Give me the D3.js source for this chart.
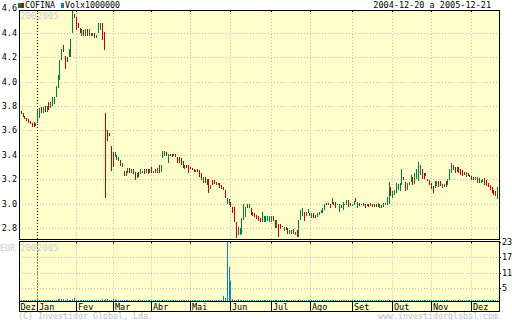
<!DOCTYPE html>
<html>
<head>
<meta charset="utf-8">
<script src="https://cdn.jsdelivr.net/npm/d3@7"></script>
<style>
  body { margin: 0; background: #fff; }
  svg text { font-family: "DejaVu Sans Mono", monospace; }
</style>
</head>
<body>
<svg id="chart" width="512" height="320"></svg>
<script>
// months on the x axis and how many trading days each one holds (2004-12-20 .. 2005-12-21)
var months = ["Dez", "Jan", "Fev", "Mar", "Abr", "Mai", "Jun", "Jul", "Ago", "Set", "Out", "Nov", "Dez"];
var monthDays = [10, 21, 20, 21, 21, 22, 22, 21, 23, 22, 21, 22, 15];

var priceTicks = [2.8, 3.0, 3.2, 3.4, 3.6, 3.8, 4.0, 4.2, 4.4, 4.6];
var volTicks = [5, 11, 17, 23];

// daily open / close (EUR)
var openP = [
  3.79, 3.76, 3.74, 3.72, 3.70, 3.69, 3.675, 3.66, 3.67, 3.64,
  3.66, 3.70, 3.795, 3.745, 3.80, 3.75, 3.835, 3.78, 3.80, 3.82, 3.875, 3.95, 4.01, 4.18, 4.30, 4.21, 4.20, 4.20, 4.20, 4.40, 4.55,
  4.53, 4.48, 4.44, 4.37, 4.42, 4.375, 4.43, 4.37, 4.40, 4.37, 4.40, 4.355, 4.40, 4.42, 4.48, 4.41, 3.745, 3.60, 3.58, 3.475,
  3.42, 3.38, 3.36, 3.35, 3.36, 3.30, 3.27, 3.23, 3.25, 3.29, 3.25, 3.28, 3.255, 3.21, 3.26, 3.24, 3.25, 3.28, 3.25, 3.28, 3.25,
  3.30, 3.25, 3.28, 3.25, 3.32, 3.26, 3.37, 3.39, 3.42, 3.33, 3.41, 3.41, 3.39, 3.41, 3.385, 3.38, 3.37, 3.35, 3.28, 3.32, 3.32,
  3.30, 3.295, 3.28, 3.26, 3.28, 3.275, 3.25, 3.17, 3.215, 3.20, 3.20, 3.12, 3.19, 3.19, 3.18, 3.155, 3.17, 3.155, 3.14, 3.11, 2.995, 2.99,
  3.01, 2.975, 2.975, 2.85, 2.74, 2.745, 2.75, 2.865, 2.89, 3.0, 2.96, 2.96, 2.93, 2.92, 2.91, 2.898, 2.88, 2.85, 2.85, 2.85, 2.855, 2.85,
  2.85, 2.90, 2.865, 2.80, 2.83, 2.83, 2.82, 2.775, 2.81, 2.80, 2.75, 2.75, 2.79, 2.745, 2.78, 2.73, 2.865, 2.90, 2.93, 2.90, 2.92,
  2.925, 2.88, 2.92, 2.905, 2.89, 2.905, 2.92, 2.92, 2.948, 3.003, 2.985, 3.0, 3.0, 3.014, 3.014, 2.985, 2.93, 2.99, 2.948, 2.99, 2.985, 3.03, 2.98,
  2.98, 2.99, 3.05, 2.96, 3.003, 2.985, 2.98, 3.0, 2.98, 3.0, 2.98, 2.995, 2.97, 3.0, 2.97, 2.96, 2.99, 2.97, 2.99, 2.99, 3.0, 3.14,
  3.043, 3.07, 3.084, 3.11, 3.106, 3.15, 3.215, 3.18, 3.11, 3.152, 3.18, 3.22, 3.158, 3.20, 3.188, 3.234, 3.28, 3.248, 3.226, 3.20, 3.193,
  3.166, 3.144, 3.125, 3.144, 3.188, 3.188, 3.125, 3.133, 3.188, 3.152, 3.19, 3.248, 3.316, 3.30, 3.26, 3.297, 3.28, 3.275, 3.26, 3.22, 3.252, 3.234,
  3.226, 3.215, 3.19, 3.166, 3.207, 3.166, 3.18, 3.207, 3.197, 3.17, 3.152, 3.14, 3.11, 3.10, 3.035
];
var closeP = [
  3.76, 3.735, 3.71, 3.69, 3.675, 3.66, 3.65, 3.63, 3.63, 3.66,
  3.775, 3.78, 3.74, 3.79, 3.75, 3.80, 3.77, 3.835, 3.87, 3.875, 3.96, 4.05, 4.18, 4.27, 4.24, 4.10, 4.16, 4.27, 4.35, 4.59, 4.52,
  4.42, 4.44, 4.40, 4.43, 4.37, 4.43, 4.37, 4.43, 4.37, 4.40, 4.355, 4.38, 4.48, 4.48, 4.34, 4.26, 3.05, 3.515, 3.55, 3.27,
  3.30, 3.42, 3.40, 3.38, 3.31, 3.33, 3.23, 3.27, 3.29, 3.25, 3.28, 3.24, 3.19, 3.25, 3.22, 3.28, 3.27, 3.24, 3.28, 3.24, 3.28,
  3.25, 3.27, 3.25, 3.29, 3.25, 3.32, 3.43, 3.43, 3.39, 3.41, 3.39, 3.38, 3.41, 3.38, 3.33, 3.33, 3.32, 3.29, 3.32, 3.29, 3.25,
  3.28, 3.277, 3.26, 3.275, 3.26, 3.22, 3.195, 3.22, 3.17, 3.155, 3.09, 3.155, 3.155, 3.16, 3.155, 3.17, 3.13, 3.12, 3.11, 3.045, 3.05, 3.04,
  2.97, 2.925, 2.85, 2.72, 2.81, 2.80, 2.88, 3.0, 2.97, 2.96, 3.0, 2.91, 2.90, 2.89, 2.875, 2.86, 2.85, 2.93, 2.90, 2.90, 2.90, 2.90,
  2.90, 2.86, 2.80, 2.865, 2.73, 2.795, 2.81, 2.81, 2.78, 2.75, 2.78, 2.78, 2.75, 2.77, 2.73, 2.865, 2.95, 2.96, 2.86, 2.93, 2.955,
  2.90, 2.92, 2.88, 2.88, 2.925, 2.935, 2.948, 2.96, 3.0, 2.985, 3.003, 2.96, 3.05, 2.985, 2.96, 3.0, 3.0, 2.96, 3.014, 3.0, 3.03, 2.97, 3.003,
  3.0, 3.02, 3.01, 3.014, 2.98, 3.0, 3.003, 2.96, 3.0, 2.97, 3.003, 2.97, 3.0, 2.97, 3.003, 2.997, 2.96, 3.007, 3.007, 3.057, 3.18, 3.06,
  3.10, 3.11, 3.166, 3.158, 3.17, 3.28, 3.197, 3.10, 3.166, 3.18, 3.234, 3.152, 3.248, 3.28, 3.343, 3.316, 3.20, 3.20, 3.248, 3.188, 3.15,
  3.12, 3.09, 3.188, 3.188, 3.14, 3.144, 3.158, 3.158, 3.133, 3.20, 3.28, 3.33, 3.275, 3.252, 3.297, 3.248, 3.234, 3.226, 3.234, 3.26, 3.226, 3.215,
  3.197, 3.19, 3.215, 3.215, 3.166, 3.193, 3.20, 3.152, 3.144, 3.14, 3.11, 3.084, 3.07, 3.06, 3.14
];
// daily volume, x1000000
var volume = [
  0.2, 0.3, 0.2, 0.2, 0.1, 0.2, 0.3, 0.2, 0.3, 0.5,
  0.4, 0.5, 0.3, 0.3, 0.4, 0.2, 0.3, 0.3, 0.4, 0.4, 0.5, 0.6, 0.9, 0.7, 0.8, 0.4, 0.6, 0.5, 0.4, 0.6, 1.2,
  0.5, 0.4, 0.3, 0.3, 0.3, 0.2, 0.3, 0.2, 0.3, 0.2, 0.3, 0.4, 0.4, 0.5, 0.6, 0.5, 0.9, 0.6, 0.5, 0.4,
  0.8, 0.7, 0.4, 0.3, 0.3, 0.2, 0.3, 0.2, 0.2, 0.3, 0.2, 0.2, 0.3, 0.2, 0.2, 0.3, 0.2, 0.2, 0.3, 0.2, 0.2,
  0.2, 0.2, 0.2, 0.3, 0.2, 0.2, 0.4, 0.3, 0.2, 0.2, 0.2, 0.2, 0.2, 0.3, 0.2, 0.2, 0.2, 0.2, 0.3, 0.2, 0.2,
  0.2, 0.2, 0.2, 0.3, 0.2, 0.2, 0.3, 0.2, 0.2, 0.4, 0.2, 0.2, 0.2, 0.2, 0.2, 0.2, 0.3, 0.4, 2.1, 1.3, 23, 13.4,
  7.8, 0.6, 0.4, 0.5, 0.6, 0.4, 0.3, 0.3, 0.4, 0.3, 0.2, 0.2, 0.2, 0.2, 0.3, 0.2, 0.2, 0.2, 0.3, 0.2, 0.2, 0.2,
  0.2, 0.2, 0.3, 0.2, 0.3, 0.2, 0.2, 0.2, 0.2, 0.2, 0.2, 0.2, 0.2, 0.2, 0.3, 0.3, 0.2, 0.2, 0.2, 0.2, 0.2,
  0.2, 0.2, 0.2, 0.2, 0.2, 0.2, 0.2, 0.2, 0.3, 0.2, 0.2, 0.2, 0.3, 0.2, 0.2, 0.2, 0.2, 0.2, 0.2, 0.2, 0.2, 0.2, 0.2,
  0.2, 0.2, 0.3, 0.2, 0.2, 0.2, 0.2, 0.2, 0.2, 0.2, 0.2, 0.2, 0.2, 0.2, 0.2, 0.2, 0.2, 0.2, 0.2, 0.3, 0.5, 0.4,
  0.3, 0.3, 0.3, 0.3, 0.3, 0.5, 0.3, 0.3, 0.2, 0.2, 0.3, 0.2, 0.3, 0.3, 0.4, 0.3, 0.3, 0.2, 0.2, 0.2, 0.2,
  0.2, 0.2, 0.2, 0.2, 0.2, 0.2, 0.2, 0.2, 0.2, 0.2, 0.3, 0.4, 0.3, 0.2, 0.2, 0.2, 0.2, 0.2, 0.2, 0.2, 0.2, 0.2,
  0.2, 0.2, 0.2, 0.2, 0.2, 0.2, 0.2, 0.2, 0.2, 0.2, 0.2, 0.3, 0.3, 0.2, 0.3
];

var svg = d3.select("#chart");
var left = 19, right = 499,
    pTop = 10, pBottom = 239.5,
    vTop = 241.5, vBottom = 301.5,
    mBottom = 311;
var bg = "#ffffcc", grid = "#c0c0c0", up = "#008040", down = "#cc0000", volCol = "#0a84c8";

var nDays = d3.sum(monthDays);
var days = d3.range(nDays);
var x = d3.scaleBand().domain(days).range([left, right]).padding(0);

// first trading day of each month
var monthStart = [];
var acc = 0;
monthDays.forEach(function(n) { monthStart.push(acc); acc += n; });

var y = d3.scaleLinear().domain([2.8, 4.6]).range([228, 8.4]);
var yv = d3.scaleLinear().domain([0, 23]).range([301, 242]);

// the old year label is cut where the new year starts
svg.append("defs").append("clipPath").attr("id", "oldYear")
   .append("rect").attr("x", 0).attr("y", 0).attr("width", 36).attr("height", 320);

// panel backgrounds
svg.append("rect").attr("x", left).attr("y", pTop).attr("width", right - left).attr("height", pBottom - pTop).attr("fill", bg);
svg.append("rect").attr("x", left).attr("y", vTop).attr("width", right - left).attr("height", vBottom - vTop).attr("fill", bg);
svg.append("rect").attr("x", left).attr("y", vBottom).attr("width", right - left).attr("height", mBottom - vBottom).attr("fill", bg);

// horizontal gridlines
svg.append("g").selectAll("line")
  .data(priceTicks.filter(d => d < 4.6))
  .enter().append("line")
  .attr("x1", left).attr("x2", right)
  .attr("y1", d => Math.round(y(d)) + 0.5).attr("y2", d => Math.round(y(d)) + 0.5)
  .attr("stroke", grid).attr("stroke-dasharray", "1,2");

svg.append("g").selectAll("line")
  .data(volTicks.filter(d => d < 23))
  .enter().append("line")
  .attr("x1", left).attr("x2", right)
  .attr("y1", d => Math.round(yv(d)) + 0.5).attr("y2", d => Math.round(yv(d)) + 0.5)
  .attr("stroke", grid).attr("stroke-dasharray", "1,2");

// vertical month gridlines (year change drawn black)
var mx = function(i) { return Math.round(x(monthStart[i])) + 0.5; };
[[pTop, pBottom], [vTop, vBottom]].forEach(function(r) {
  svg.append("g").selectAll("line")
    .data(d3.range(1, months.length))
    .enter().append("line")
    .attr("x1", mx).attr("x2", mx)
    .attr("y1", r[0]).attr("y2", r[1])
    .attr("stroke", i => i === 1 ? "#000" : grid)
    .attr("stroke-dasharray", "1,2");
  // little black marks at the top
  svg.append("g").selectAll("line")
    .data(d3.range(1, months.length))
    .enter().append("line")
    .attr("x1", mx).attr("x2", mx)
    .attr("y1", r[0]).attr("y2", r[0] + 2)
    .attr("stroke", "#000");
});

// watermarks
[[18.5, "2004", 20], [18.5, "2005", 37], [251, "2004", 20], [251, "2005", 37]].forEach(function(w) {
  svg.append("text").attr("x", w[2]).attr("y", w[0]).attr("font-size", 9)
     .attr("fill", "#cccccc")
     .attr("clip-path", w[1] === "2004" ? "url(#oldYear)" : null)
     .text(w[1]);
});
svg.append("text").attr("x", 0).attr("y", 251).attr("font-size", 8.5).attr("fill", "#c8c8c8").text("EUR");

// price bars
var bars = svg.append("g").attr("shape-rendering", "crispEdges");
bars.selectAll("rect")
  .data(days)
  .enter().append("rect")
  .attr("x", i => Math.floor(x(i) + x.bandwidth() / 2 - 0.5))
  .attr("width", 1)
  .attr("y", i => Math.round(y(Math.max(openP[i], closeP[i]))))
  .attr("height", i => Math.max(1, Math.round(y(Math.min(openP[i], closeP[i]))) - Math.round(y(Math.max(openP[i], closeP[i])))))
  .attr("fill", i => closeP[i] >= openP[i] ? up : down);

// volume bars
svg.append("g").attr("shape-rendering", "crispEdges")
  .selectAll("rect")
  .data(days)
  .enter().append("rect")
  .attr("x", i => Math.floor(x(i) + x.bandwidth() / 2 - 0.5))
  .attr("width", 1)
  .attr("y", i => Math.min(300, Math.round(yv(volume[i]))))
  .attr("height", i => Math.max(1, 301 - Math.round(yv(volume[i]))))
  .attr("fill", volCol);

// panel frames
var frame = svg.append("g").attr("fill", "none").attr("stroke", "#000").attr("shape-rendering", "crispEdges");
frame.append("rect").attr("x", left).attr("y", pTop).attr("width", right - left).attr("height", pBottom - pTop);
frame.append("rect").attr("x", left).attr("y", vTop).attr("width", right - left).attr("height", vBottom - vTop);
frame.append("rect").attr("x", left).attr("y", vBottom).attr("width", right - left).attr("height", mBottom - vBottom);

// month row
svg.append("g").selectAll("line")
  .data(d3.range(1, months.length))
  .enter().append("line")
  .attr("x1", mx).attr("x2", mx)
  .attr("y1", vBottom).attr("y2", mBottom)
  .attr("stroke", "#000");
svg.append("g").selectAll("text")
  .data(months)
  .enter().append("text")
  .attr("x", (d, i) => (i === 0 ? left : mx(i)) + 1.5)
  .attr("y", 309.5)
  .attr("font-size", 8.5)
  .attr("fill", "#000")
  .text(d => d);

// price axis labels
svg.append("g").selectAll("text")
  .data(priceTicks)
  .enter().append("text")
  .attr("x", 17)
  .attr("y", d => y(d))
  .attr("dy", "0.35em")
  .attr("text-anchor", "end")
  .attr("font-size", 8.5)
  .text(d => d.toFixed(1));

// volume axis labels
var vAxis = svg.append("g");
vAxis.selectAll("line")
  .data(volTicks).enter().append("line")
  .attr("x1", right).attr("x2", right + 2)
  .attr("y1", d => Math.round(yv(d)) + 0.5).attr("y2", d => Math.round(yv(d)) + 0.5)
  .attr("stroke", "#000");
vAxis.selectAll("text")
  .data(volTicks).enter().append("text")
  .attr("x", 502)
  .attr("y", d => yv(d))
  .attr("dy", "0.35em")
  .attr("font-size", 8.5)
  .text(d => d);

// legend and title
svg.append("rect").attr("x", 18).attr("y", 3).attr("width", 3).attr("height", 5).attr("fill", up);
svg.append("rect").attr("x", 21).attr("y", 3).attr("width", 3).attr("height", 5).attr("fill", down);
svg.append("text").attr("x", 25).attr("y", 8).attr("font-size", 8.3).text("COFINA");
svg.append("rect").attr("x", 61).attr("y", 3).attr("width", 3).attr("height", 5).attr("fill", volCol);
svg.append("text").attr("x", 65).attr("y", 8).attr("font-size", 8.3).text("Volx1000000");
svg.append("text").attr("x", 491).attr("y", 8).attr("text-anchor", "end").attr("font-size", 8.5).text("2004-12-20 a 2005-12-21");

// footer
svg.append("text").attr("x", 18).attr("y", 319).attr("font-size", 8.3).attr("fill", "#c0c0c0").text("(C) Investidor Global, Lda.");
svg.append("text").attr("x", 498).attr("y", 319).attr("text-anchor", "end").attr("font-size", 8.3).attr("fill", "#c0c0c0").text("www.investidorglobal.com");
</script>
</body>
</html>
